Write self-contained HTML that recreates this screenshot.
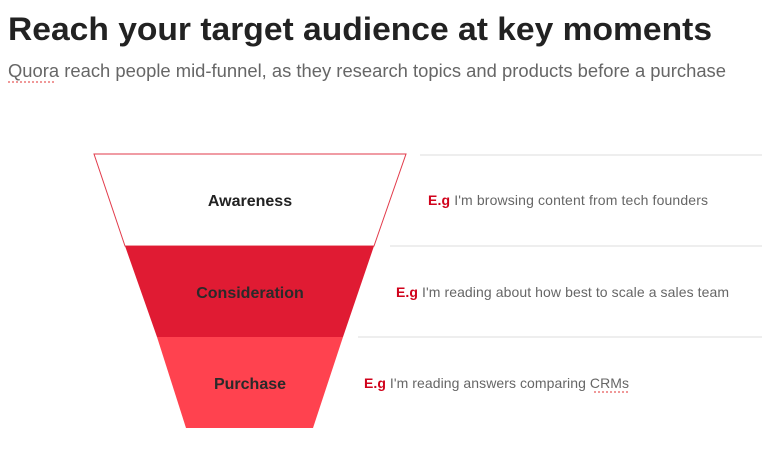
<!DOCTYPE html>
<html><head><style>
html,body{margin:0;padding:0;background:#fff;width:770px;height:449px;overflow:hidden}
svg{display:block}
text{font-family:"Liberation Sans",sans-serif}
</style></head><body>
<svg width="770" height="449" viewBox="0 0 770 449">
<text x="8" y="40" font-size="32" font-weight="bold" fill="#222" textLength="704" lengthAdjust="spacingAndGlyphs">Reach your target audience at key moments</text>
<text x="8" y="77" font-size="18" fill="#666" textLength="718" lengthAdjust="spacingAndGlyphs">Quora reach people mid-funnel, as they research topics and products before a purchase</text>
<path d="M8 82 L56 82" stroke="#e03030" stroke-width="1" stroke-dasharray="2,2"/>
<polygon points="94,154 406,154 374,246 125,246" fill="#fff" stroke="#e23a4a" stroke-width="1"/>
<polygon points="125,246 374,246 343,337 157,337" fill="#e01b33"/>
<polygon points="157,337 343,337 313,428 186,428" fill="#ff424f"/>
<text x="250" y="206" font-size="16" font-weight="bold" fill="#222" text-anchor="middle">Awareness</text>
<text x="250" y="298" font-size="16" font-weight="bold" fill="#2a2a2a" text-anchor="middle">Consideration</text>
<text x="250" y="389" font-size="16" font-weight="bold" fill="#2a2a2a" text-anchor="middle">Purchase</text>
<line x1="420" y1="155" x2="762" y2="155" stroke="#ddd"/>
<line x1="390" y1="246" x2="762" y2="246" stroke="#ddd"/>
<line x1="358" y1="337" x2="762" y2="337" stroke="#ddd"/>
<text x="428" y="205" font-size="14" fill="#666" textLength="280" lengthAdjust="spacing"><tspan fill="#d0021b" font-weight="bold">E.g</tspan> I'm browsing content from tech founders</text>
<text x="396" y="297" font-size="14" fill="#666" textLength="333" lengthAdjust="spacing"><tspan fill="#d0021b" font-weight="bold">E.g</tspan> I'm reading about how best to scale a sales team</text>
<text x="364" y="388" font-size="14" fill="#666" textLength="265" lengthAdjust="spacing"><tspan fill="#d0021b" font-weight="bold">E.g</tspan> I'm reading answers comparing CRMs</text>
<path d="M594 392 L629 392" stroke="#e03030" stroke-width="1" stroke-dasharray="2,2"/>
</svg>
</body></html>
